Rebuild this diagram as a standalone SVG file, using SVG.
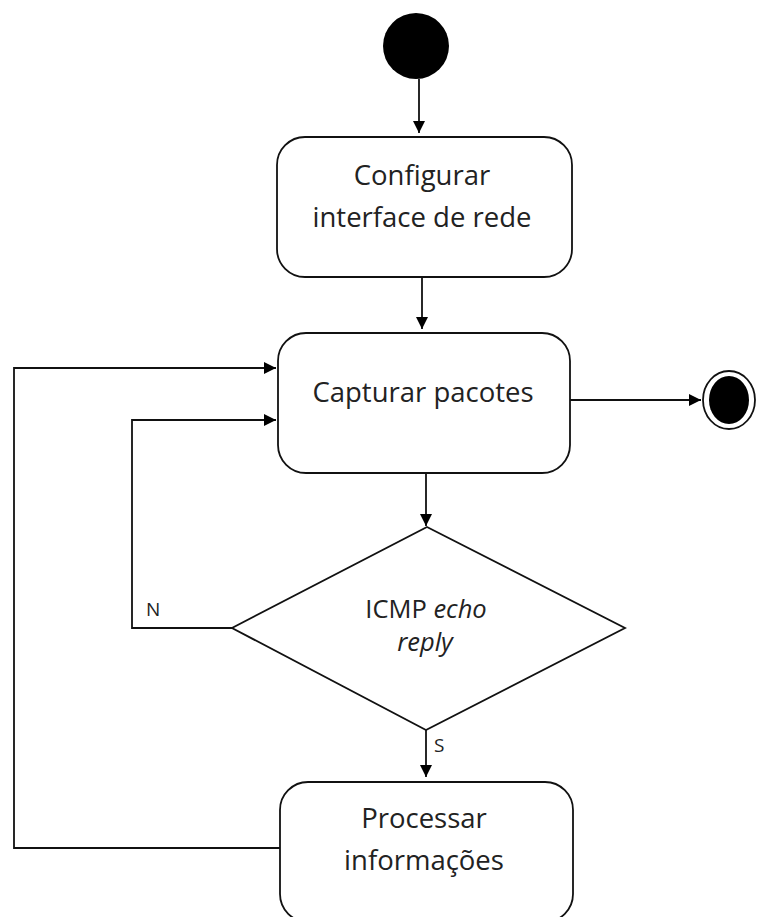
<svg xmlns="http://www.w3.org/2000/svg" width="758" height="917" viewBox="0 0 758 917">
<defs>
<style>
.box{fill:#fff;stroke:#111;stroke-width:1.8}
.t{font-family:"Open Sans","Liberation Sans",sans-serif;font-size:27.5px;fill:#222;text-anchor:middle}
.d{font-family:"Open Sans","Liberation Sans",sans-serif;font-size:25.5px;fill:#222;text-anchor:middle}
.l{font-family:"Open Sans","Liberation Sans",sans-serif;font-size:19px;fill:#222}
.c{fill:none;stroke:#111;stroke-width:1.8}
</style>
<marker id="ah" viewBox="0 0 12 12" refX="12" refY="6" markerWidth="12" markerHeight="12" markerUnits="userSpaceOnUse" orient="auto">
<path d="M0,0 L12,6 L0,12 Z" fill="#000"/>
</marker>
</defs>
<rect width="758" height="917" fill="#fff"/>
<g id="start"><circle cx="416" cy="46" r="33" fill="#000"/></g>
<g id="configurar">
<rect class="box" x="277" y="137" width="295" height="140" rx="28"/>
<text class="t" x="422" y="185">Configurar</text>
<text class="t" x="422" y="227">interface de rede</text>
</g>
<g id="capturar">
<rect class="box" x="278" y="333" width="292" height="140" rx="28"/>
<text class="t" x="423" y="402">Capturar pacotes</text>
</g>
<g id="end">
<ellipse cx="729" cy="400" rx="26" ry="29" fill="#fff" stroke="#111" stroke-width="1.8"/>
<ellipse cx="729" cy="400" rx="20" ry="24" fill="#000"/>
</g>
<g id="decisao">
<polygon class="box" points="427,527 625,628 426,730 232,628"/>
<text class="d" x="426" y="618">ICMP <tspan font-style="italic">echo</tspan></text>
<text class="d" x="425" y="651" font-style="italic">reply</text>
</g>
<g id="processar">
<rect class="box" x="280" y="782" width="293" height="140" rx="28"/>
<text class="t" x="424" y="828">Processar</text>
<text class="t" x="424" y="870">informações</text>
</g>
<g id="connectors">
<line class="c" x1="419" y1="79" x2="419" y2="133" marker-end="url(#ah)"/>
<line class="c" x1="422" y1="277" x2="422" y2="329" marker-end="url(#ah)"/>
<line class="c" x1="570" y1="400" x2="701" y2="400" marker-end="url(#ah)"/>
<line class="c" x1="426" y1="473" x2="426" y2="526" marker-end="url(#ah)"/>
<line class="c" x1="426" y1="730" x2="426" y2="777" marker-end="url(#ah)"/>
<polyline class="c" points="232,628 132,628 132,420 276,420" marker-end="url(#ah)"/>
<polyline class="c" points="280,848 14,848 14,368 276,368" marker-end="url(#ah)"/>
<text class="l" x="146" y="616">N</text>
<text class="l" x="434" y="752">S</text>
</g>
</svg>
